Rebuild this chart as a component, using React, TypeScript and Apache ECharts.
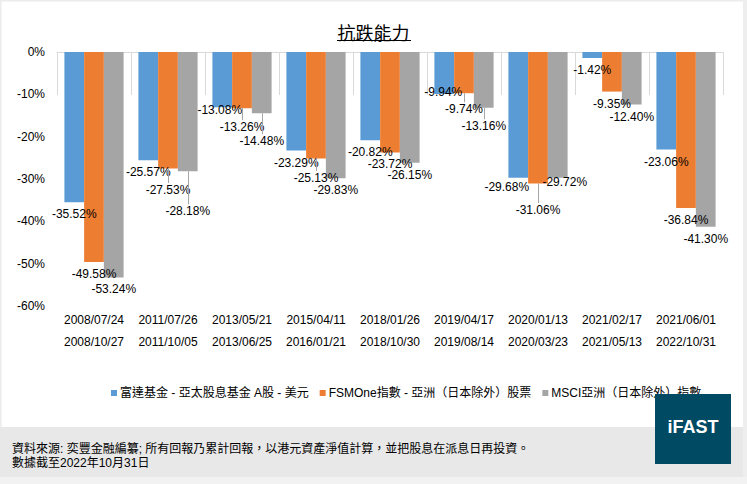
import React, { useEffect, useRef } from "react";
import * as echarts from "echarts";

const startDates = ["2008/07/24", "2011/07/26", "2013/05/21", "2015/04/11", "2018/01/26", "2019/04/17", "2020/01/13", "2021/02/17", "2021/06/01"];
const endDates = ["2008/10/27", "2011/10/05", "2013/06/25", "2016/01/21", "2018/10/30", "2019/08/14", "2020/03/23", "2021/05/13", "2022/10/31"];
const seriesNames = ["富達基金 - 亞太股息基金 A股 - 美元", "FSMOne指數 - 亞洲（日本除外）股票", "MSCI亞洲（日本除外）指數"];
const fundValues = [-35.52, -25.57, -13.08, -23.29, -20.82, -9.94, -29.68, -1.42, -23.06];
const fsmValues = [-49.58, -27.53, -13.26, -25.13, -23.72, -9.74, -31.06, -9.35, -36.84];
const msciValues = [-53.24, -28.18, -14.48, -29.83, -26.15, -13.16, -29.72, -12.4, -41.3];
const yTicks = { min: -60, max: 0, step: 10 };

const colors = ["#5b9bd5", "#ed7d31", "#a5a5a5"];
// label nudges [dx, dy] per series/category (style only)
const nudges: Record<string, [number, number]> = {
  "0-2": [-2.5, -9.5],
  "0-5": [-1, -14],
  "0-6": [-11.5, -2.3],
  "1-1": [0, 9.5],
  "1-2": [0, 7],
  "1-3": [0, 7.6],
  "1-5": [0, 4],
  "1-6": [0, 14.5],
  "2-1": [0, 28],
  "2-2": [0, 16],
  "2-5": [0, 6.6],
  "2-6": [7, -7.5],
};

const FONT = "'Liberation Sans', Arial, 'Noto Sans CJK TC', sans-serif";
const LABEL_DIST = 6;
const CAT_GAP = 0.2;

export default function App() {
  const ref = useRef<HTMLDivElement>(null);
  useEffect(() => {
    if (!ref.current) return;
    const chart = echarts.init(ref.current, null, { renderer: "svg" });
    const all = [fundValues, fsmValues, msciValues];
    const series: any[] = all.map((vals, si) => ({
      name: seriesNames[si],
      type: "bar",
      xAxisIndex: 0,
      barGap: "0%",
      barCategoryGap: `${CAT_GAP * 100}%`,
      itemStyle: { color: colors[si] },
      label: {
        show: true,
        position: "bottom",
        distance: LABEL_DIST,
        formatter: (p: any) => `${Number(p.value).toFixed(2)}%`,
        fontSize: 12,
        color: "#000",
        fontFamily: FONT,
      },
      labelLayout: (p: any) => {
        const n = nudges[`${si}-${p.dataIndex}`];
        if (!n) return {};
        return { dx: n[0], dy: n[1] };
      },
      data: vals,
    }));
    const baseGraphic: any[] = [
      { type: "rect", shape: { x: 0, y: 0, width: 747, height: 1.5 }, style: { fill: "#ececec" }, silent: true },
      { type: "rect", shape: { x: 0, y: 0, width: 1.5, height: 484 }, style: { fill: "#ececec" }, silent: true },
      { type: "rect", shape: { x: 743, y: 0, width: 4, height: 484 }, style: { fill: "#eeeeee" }, silent: true },
      { type: "line", shape: { x1: 337, y1: 40.5, x2: 411, y2: 40.5 }, style: { stroke: "#000", lineWidth: 1 }, silent: true },
      { type: "rect", shape: { x: 0, y: 427, width: 743, height: 50 }, style: { fill: "#e8e8e8" }, silent: true },
      { type: "rect", shape: { x: 0, y: 477, width: 747, height: 7 }, style: { fill: "#f2f2f2" }, silent: true },
      {
        type: "text",
        left: 12,
        top: 443,
        style: { text: "資料來源: 奕豐金融編纂; 所有回報乃累計回報，以港元資產淨值計算，並把股息在派息日再投資。", fontSize: 12, fill: "#000", fontFamily: FONT },
        silent: true,
      },
      {
        type: "text",
        left: 12,
        top: 457,
        style: { text: "數據截至2022年10月31日", fontSize: 12, fill: "#000", fontFamily: FONT },
        silent: true,
      },
      { type: "rect", shape: { x: 655, y: 394, width: 76, height: 70 }, style: { fill: "#004a63" }, silent: true, z: 10 },
      {
        type: "text",
        x: 693,
        y: 427,
        style: { text: "iFAST", fontSize: 18, fontWeight: "bold", fill: "#ffffff", align: "center", verticalAlign: "middle", fontFamily: FONT },
        silent: true,
        z: 11,
      },
    ];
    chart.setOption({
      animation: false,
      backgroundColor: "#ffffff",
      textStyle: { fontFamily: FONT },
      title: {
        text: "抗跌能力",
        left: "center",
        top: 20,
        textStyle: { fontSize: 18, fontWeight: "normal", color: "#000", fontFamily: FONT },
      },
      legend: {
        data: seriesNames,
        top: 382,
        left: 106,
        icon: "rect",
        itemWidth: 6,
        itemHeight: 6,
        itemGap: 11,
        textStyle: { fontSize: 12, color: "#000", fontFamily: FONT, padding: [0, 0, 0, -2] },
      },
      grid: { left: 57, right: 24, top: 52, bottom: 178 },
      xAxis: [
        {
          type: "category",
          position: "bottom",
          data: startDates,
          axisLine: { show: false },
          axisTick: { show: true, length: 43, interval: 0, lineStyle: { color: "#d9d9d9" } },
          axisLabel: {
            interval: 0,
            fontSize: 12,
            color: "#000",
            lineHeight: 22,
            margin: 3,
            fontFamily: FONT,
            formatter: (s: string, i: number) => `${s}\n${endDates[i]}`,
          },
        },
        {
          type: "category",
          position: "top",
          data: startDates,
          axisLine: { show: true, lineStyle: { color: "#d9d9d9" } },
          axisTick: { show: false },
          axisLabel: { show: false },
        },
      ],
      yAxis: {
        type: "value",
        min: yTicks.min,
        max: yTicks.max,
        interval: yTicks.step,
        axisLine: { show: false },
        axisTick: { show: false },
        splitLine: { show: false },
        axisLabel: { formatter: (v: number) => `${v}%`, fontSize: 12, color: "#000", margin: 12, fontFamily: FONT },
      },
      series,
      graphic: baseGraphic,
    });
    // leader lines for labels pushed away from their bars, placed via the chart's own scales
    try {
      const finder = { xAxisIndex: 0, yAxisIndex: 0 };
      const leaders: any[] = [];
      all.forEach((vals, si) =>
        vals.forEach((v, ci) => {
          const n = nudges[`${si}-${ci}`];
          if (!(n && n[1] > 0)) return;
          const pt = chart.convertToPixel(finder as any, [ci, v]) as number[];
          const p0 = chart.convertToPixel(finder as any, [0, v]) as number[];
          const p1 = chart.convertToPixel(finder as any, [1, v]) as number[];
          if (!pt || !p0 || !p1) return;
          const barW = ((p1[0] - p0[0]) * (1 - CAT_GAP)) / 3;
          const x = Math.round(pt[0] + (si - 1) * barW) + 0.5;
          leaders.push({
            type: "line",
            silent: true,
            z: 20,
            shape: { x1: x, y1: pt[1], x2: x, y2: pt[1] + LABEL_DIST + n[1] - 1 },
            style: { stroke: "#a6a6a6", lineWidth: 1 },
          });
        })
      );
      if (leaders.length) chart.setOption({ graphic: [...baseGraphic, ...leaders] }, { replaceMerge: ["graphic"] });
    } catch (e) {
      // keep chart without leaders
    }
    return () => chart.dispose();
  }, []);
  return <div ref={ref} style={{ position: "fixed", left: 0, top: 0, width: 747, height: 484 }} />;
}
